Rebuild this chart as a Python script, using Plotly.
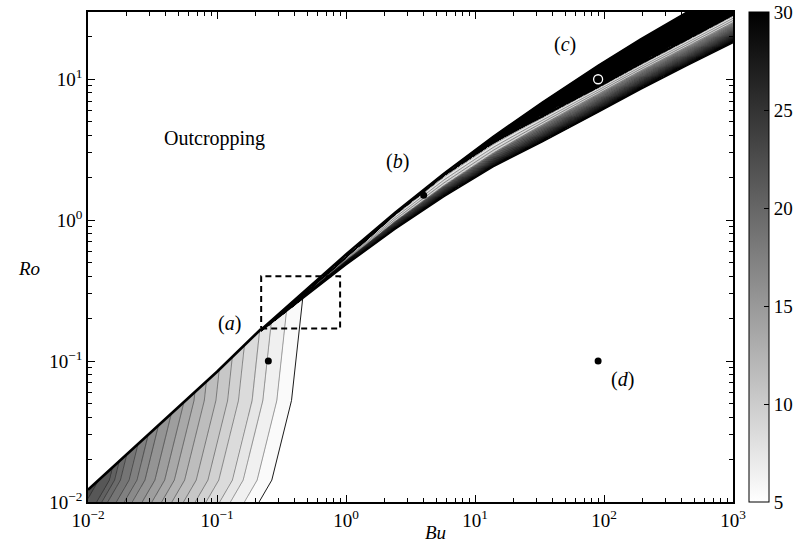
import numpy as np
import plotly.graph_objects as go

# ---------------- data ----------------
# outcropping (upper) edge of the low-Ro region
left_bu = [0.01, 0.0316, 0.1]
left_ro = [0.0122, 0.0320, 0.084]
# band: upper (outcropping) edge and lower edge, starting at the corner Bu~0.22
band_bu = [0.2196, 0.413, 0.993, 2.388, 5.74, 13.8, 33.2, 90.3, 192, 439, 1000]
band_up_ro = [0.169, 0.283, 0.574, 1.135, 2.157, 3.94, 6.89, 12.6, 19.3, 30.0, 46.1]
band_low_ro = [0.164, 0.258, 0.479, 0.859, 1.469, 2.39, 3.59, 5.84, 8.49, 12.5, 18.2]
# fraction of the band width (from its top) that is saturated (>30)
band_black_frac = [0.6, 0.5, 0.3, 0.1, 0.08, 0.2, 0.35, 0.45, 0.48, 0.5, 0.5]
# fraction of the remaining width that is pale (values below 10)
band_light_frac = [0.3, 0.38, 0.45, 0.5, 0.5, 0.45, 0.35, 0.3, 0.3, 0.3, 0.3]
# values across the rest of the band: end of black part, pale part, lower edge
band_z = [30.5, 6.5, 10.0, 30.6]
band_drop = 0.03
band_sat = 32.0
# right edge of the low-Ro region
right_ro = [0.01, 0.0143, 0.0525, 0.234, 0.5]
right_bu = [0.212, 0.266, 0.378, 0.451, 0.5]
# contour crossings along Ro = 0.01 in the low-Ro region, with their values
cross_bu = [0.212, 0.163, 0.127, 0.105, 0.0822, 0.0678, 0.0550, 0.0447, 0.0372,
            0.0313, 0.0263, 0.0220, 0.0191, 0.0166, 0.0142, 0.0128, 0.0117, 0.01, 0.0056]
cross_z = [5.2, 6, 7, 8, 9, 10, 11, 12, 13, 14, 15, 16, 17, 18, 19, 20, 21, 21.8, 25]

# marked points
pt_bu = [0.25, 4.0, 90.0, 90.0]
pt_ro = [0.1, 1.5, 10.0, 0.1]
# dashed box
box_bu = [0.22, 0.9]
box_ro = [0.17, 0.4]
# text labels (Bu, Ro positions)
lab_text = ["Outcropping", "(<i>a</i>)", "(<i>b</i>)", "(<i>c</i>)", "(<i>d</i>)"]
lab_bu = [0.095, 0.125, 2.52, 49.8, 140.0]
lab_ro = [3.77, 0.186, 2.6, 17.6, 0.074]

x_ticks = [0.01, 0.1, 1, 10, 100, 1000]
x_ticktext = ["10<sup>−2</sup>", "10<sup>−1</sup>", "10<sup>0</sup>", "10<sup>1</sup>",
              "10<sup>2</sup>", "10<sup>3</sup>"]
y_ticks = [0.01, 0.1, 1, 10]
y_ticktext = ["10<sup>−2</sup>", "10<sup>−1</sup>", "10<sup>0</sup>", "10<sup>1</sup>"]
cb_ticks = [5, 10, 15, 20, 25, 30]

# ---------------- build the field ----------------
lg = np.log10
upper_bu = left_bu + band_bu
upper_ro = left_ro + band_up_ro

U = np.linspace(-2, 3, 640)
V = np.linspace(-2, lg(30), 540)
uu, vv = np.meshgrid(U, V)

v_up = np.interp(uu, lg(upper_bu), lg(upper_ro))
u_c = lg(band_bu[0])
v_lo = np.interp(uu, lg(band_bu), lg(band_low_ro))
tb = np.interp(uu, lg(band_bu), band_black_frac)
lf = np.interp(uu, lg(band_bu), band_light_frac)
t = (v_up - vv) / np.maximum(v_up - v_lo, 1e-6)
s = np.clip((t - tb) / (1 - tb), 0, 1)
z_drop = band_z[0] + (band_z[1] - band_z[0]) * s / band_drop
z_pale = band_z[1] + (band_z[2] - band_z[1]) * (s - band_drop) / (lf - band_drop)
z_grad = band_z[2] + (band_z[3] - band_z[2]) * (s - lf) / (1 - lf)
zb = np.where(s < band_drop, z_drop, np.where(s < lf, z_pale, z_grad))
zb = np.where(t < tb, band_sat, zb)

uR = np.interp(vv, lg(right_ro), lg(right_bu))
d = uR - uu
cross_d = lg(right_bu[0]) - lg(np.array(cross_bu))
zL = np.interp(d, cross_d, cross_z)

in_band = (uu >= u_c) & (vv >= v_lo)
z = np.where(in_band, zb, zL).astype(np.float32)
# filled-contour colouring: one flat grey per unit interval
zfill = (np.floor(z) + 0.5).astype(np.float32)

# where the right edge of the low-Ro region meets the band's lower edge
vs = np.linspace(lg(right_ro[0]), lg(right_ro[-1]), 4001)
us = np.interp(vs, lg(right_ro), lg(right_bu))
hit = np.argmax(vs >= np.interp(us, lg(band_bu), lg(band_low_ro)))
v_hit, u_hit = vs[hit], us[hit]
r_ro = [r for r in right_ro if lg(r) < v_hit] + [10 ** v_hit]
r_bu = [b for r, b in zip(right_ro, right_bu) if lg(r) < v_hit] + [10 ** u_hit]
b_bu = [10 ** u_hit] + [b for b in band_bu if lg(b) > u_hit]
b_ro = [10 ** np.interp(u_hit, lg(band_bu), lg(band_low_ro))] + \
       [r for b, r in zip(band_bu, band_low_ro) if lg(b) > u_hit]

FONT = "Liberation Serif"
GRAY = [[0, "white"], [1, "black"]]

fig = go.Figure()
fig.add_trace(go.Heatmap(
    x=10 ** U, y=10 ** V, z=zfill, zmin=5, zmax=30, colorscale=GRAY,
    showscale=False, hoverinfo="skip"))
fig.add_trace(go.Contour(
    x=10 ** U, y=10 ** V, z=z, showscale=False,
    contours=dict(start=5, end=30, size=1, coloring="none"),
    line=dict(color="black", width=0.4),
    hoverinfo="skip",
))

# blank (no solution) areas
fig.add_trace(go.Scatter(
    x=upper_bu + [upper_bu[-1], upper_bu[0]], y=upper_ro + [300, 300],
    mode="lines", fill="toself", fillcolor="white", line=dict(width=0),
    showlegend=False, hoverinfo="skip"))
fig.add_trace(go.Scatter(
    x=b_bu + [b_bu[-1], r_bu[0]] + r_bu,
    y=b_ro + [0.001, 0.001] + r_ro,
    mode="lines", fill="toself", fillcolor="white", line=dict(width=0),
    showlegend=False, hoverinfo="skip"))

# region edges
fig.add_trace(go.Scatter(x=left_bu + band_bu[:1], y=left_ro + band_up_ro[:1], mode="lines",
                         line=dict(color="black", width=2.6),
                         showlegend=False, hoverinfo="skip"))
fig.add_trace(go.Scatter(x=band_bu, y=band_up_ro, mode="lines",
                         line=dict(color="black", width=1.5),
                         showlegend=False, hoverinfo="skip"))
fig.add_trace(go.Scatter(x=band_bu, y=band_low_ro, mode="lines",
                         line=dict(color="black", width=1.5),
                         showlegend=False, hoverinfo="skip"))
fig.add_trace(go.Scatter(x=r_bu, y=r_ro, mode="lines",
                         line=dict(color="black", width=0.9),
                         showlegend=False, hoverinfo="skip"))

# dashed box
fig.add_trace(go.Scatter(
    x=[box_bu[0], box_bu[1], box_bu[1], box_bu[0], box_bu[0]],
    y=[box_ro[0], box_ro[0], box_ro[1], box_ro[1], box_ro[0]],
    mode="lines", line=dict(color="black", width=2, dash="6px,4px"),
    showlegend=False, hoverinfo="skip"))

# points (this trace also carries the colour bar)
filled = [0, 1, 3]
fig.add_trace(go.Scatter(
    x=[pt_bu[i] for i in filled], y=[pt_ro[i] for i in filled], mode="markers",
    marker=dict(color=[30] * len(filled), colorscale=GRAY, cmin=5, cmax=30, size=7,
                showscale=True,
                colorbar=dict(thickness=20, len=1, lenmode="fraction", y=0.5,
                              yanchor="middle", x=1.0244, xanchor="left",
                              xpad=0, ypad=0, outlinewidth=1, outlinecolor="black",
                              tickvals=cb_ticks, ticks="inside", ticklen=5,
                              tickcolor="black",
                              tickfont=dict(family=FONT, size=19, color="black"))),
    showlegend=False, hoverinfo="skip"))
fig.add_trace(go.Scatter(
    x=[pt_bu[2]], y=[pt_ro[2]], mode="markers",
    marker=dict(color="black", size=9, line=dict(color="white", width=1.3)),
    showlegend=False, hoverinfo="skip"))

annotations = []
for txt, bx, ry in zip(lab_text, lab_bu, lab_ro):
    annotations.append(dict(x=lg(bx), y=lg(ry), xref="x", yref="y", text=txt,
                            showarrow=False, font=dict(family=FONT, size=20, color="black")))
annotations.append(dict(x=0.538, y=-0.087, xref="paper", yref="paper", text="<i>Bu</i>",
                        showarrow=False, font=dict(family=FONT, size=19, color="black")))
annotations.append(dict(x=-0.111, y=0.476, xref="paper", yref="paper", text="<i>Ro</i>",
                        showarrow=False, font=dict(family=FONT, size=19, color="black")))

minor_x = [m * 10.0 ** e for e in range(-2, 3) for m in range(2, 10)]
minor_y = [m * 10.0 ** e for e in range(-2, 2) for m in range(2, 10) if m * 10.0 ** e <= 30]

axis_common = dict(type="log", showgrid=False, zeroline=False, showline=True,
                   linecolor="black", linewidth=1.5, ticks="inside", ticklen=7,
                   tickwidth=1, tickcolor="black", mirror="allticks",
                   tickfont=dict(family=FONT, size=19, color="black"))

fig.update_layout(
    width=809, height=559,
    margin=dict(l=88, r=65, t=10, b=57),
    plot_bgcolor="white", paper_bgcolor="white",
    showlegend=False,
    xaxis=dict(range=[-2, 3], tickvals=x_ticks, ticktext=x_ticktext,
               minor=dict(tickvals=minor_x, ticks="inside", ticklen=4, tickcolor="black"),
               **axis_common),
    yaxis=dict(range=[-2, lg(30)], tickvals=y_ticks, ticktext=y_ticktext,
               minor=dict(tickvals=minor_y, ticks="inside", ticklen=4, tickcolor="black"),
               **axis_common),
    annotations=annotations,
)

fig.write_html("out.html")
